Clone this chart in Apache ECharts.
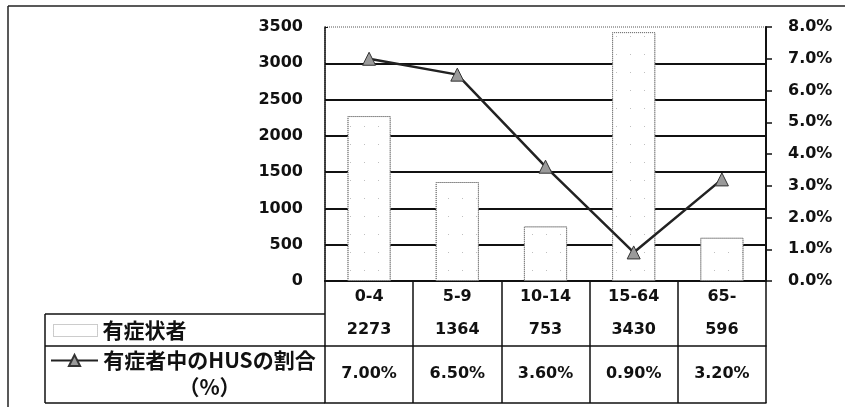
<!DOCTYPE html>
<html>
<head>
<meta charset="utf-8">
<script src="https://cdn.jsdelivr.net/npm/echarts@6/dist/echarts.min.js"></script>
<style>
html,body{margin:0;padding:0;background:#fff;}
#main{width:845px;height:407px;}
</style>
</head>
<body>
<div id="main"></div>
<script>
var categories = ['0-4', '5-9', '10-14', '15-64', '65-'];
var patients = [2273, 1364, 753, 3430, 596];
var husRate = [7.0, 6.5, 3.6, 0.9, 3.2];
var barName = '有症状者';
var lineName = '有症者中のHUSの割合（%）';

var numFont = 'DejaVu Sans';
var cjkFont = '"Noto Sans CJK JP", sans-serif';
var ink = '#111';

var chart = echarts.init(document.getElementById('main'));

function tableAxis(offset, formatter, margin, showLabel) {
  return {
    type: 'category',
    data: categories,
    position: 'bottom',
    offset: offset,
    axisLine: { show: true, lineStyle: { color: ink, width: 1.5 } },
    axisTick: { show: false },
    axisLabel: {
      show: showLabel,
      interval: 0,
      margin: margin,
      formatter: formatter,
      fontFamily: numFont, fontWeight: 'bold', fontSize: 16, color: ink
    },
    splitLine: { show: false }
  };
}

var option = {
  animation: false,
  backgroundColor: '#fff',
  grid: {
    left: 325, right: 79, top: 27, bottom: 126,
    show: true, borderColor: '#555', borderWidth: 1, borderType: 'dotted', backgroundColor: 'transparent'
  },
  legend: [
    {
      data: [{ name: barName, icon: 'rect' }],
      left: 53, top: 320, padding: 0,
      itemWidth: 44, itemHeight: 12,
      itemStyle: { color: '#fff', borderColor: '#999', borderWidth: 1, borderType: 'dotted', decal: 'none' },
      textStyle: { fontFamily: cjkFont, fontWeight: 'bold', fontSize: 21, color: ink, lineHeight: 20 }
    },
    {
      data: [lineName],
      left: 50, top: 323, padding: 0,
      itemWidth: 47, itemHeight: 14,
      formatter: function () {
        return '{b|}\n{a|有症者中のHUSの割合}\n{a|（%）}';
      },
      textStyle: {
        fontFamily: cjkFont, fontWeight: 'bold', fontSize: 21, color: ink,
        rich: {
          a: { fontFamily: cjkFont, fontWeight: 'bold', fontSize: 21, color: ink, width: 213, align: 'center', lineHeight: 27 },
          b: { fontSize: 21, lineHeight: 27 }
        }
      }
    }
  ],
  xAxis: [
    {
      type: 'category',
      data: categories,
      position: 'bottom',
      axisLine: { show: true, lineStyle: { color: ink, width: 2 } },
      axisTick: { show: true, interval: 0, length: 122, lineStyle: { color: ink, width: 1.5 } },
      axisLabel: { interval: 0, margin: 8, fontFamily: numFont, fontWeight: 'bold', fontSize: 16, color: ink },
      splitLine: { show: false }
    },
    tableAxis(33, function (v, i) { return String(patients[i]); }, 8, true),
    tableAxis(65, function (v, i) { return husRate[i].toFixed(2) + '%'; }, 20, true),
    tableAxis(122, function () { return ''; }, 8, false)
  ],
  yAxis: [
    {
      type: 'value',
      min: 0, max: 3500, interval: 500,
      axisLine: { show: true, lineStyle: { color: ink, width: 1.5 } },
      axisTick: { show: true, inside: true, length: 3, lineStyle: { color: ink } },
      axisLabel: {
        margin: 22, fontFamily: numFont, fontWeight: 'bold', fontSize: 16, color: ink,
        formatter: function (v) { return String(v); }
      },
      splitLine: { show: true, showMaxLine: false, lineStyle: { color: ink, width: 2 } }
    },
    {
      type: 'value',
      position: 'right',
      min: 0, max: 8, interval: 1,
      axisLine: { show: true, lineStyle: { color: ink, width: 2 } },
      axisTick: { show: true, length: 6, lineStyle: { color: ink, width: 1.5 } },
      axisLabel: {
        margin: 22, fontFamily: numFont, fontWeight: 'bold', fontSize: 16, color: ink,
        formatter: function (v) { return v.toFixed(1) + '%'; }
      },
      splitLine: { show: false }
    }
  ],
  series: [
    {
      name: barName,
      type: 'bar',
      xAxisIndex: 0, yAxisIndex: 0,
      data: patients,
      barWidth: '49%',
      itemStyle: {
        color: '#fff',
        borderColor: '#777',
        borderWidth: 1,
        borderType: 'dotted',
        decal: { symbol: 'rect', symbolSize: 1, color: 'rgba(0,0,0,0.25)', dashArrayX: [1, 13], dashArrayY: [1, 17], rotation: 0 }
      }
    },
    {
      name: lineName,
      type: 'line',
      xAxisIndex: 0, yAxisIndex: 1,
      data: husRate,
      symbol: 'triangle',
      symbolSize: 13,
      lineStyle: { color: '#222', width: 2.5 },
      itemStyle: { color: '#9a9a9a', borderColor: '#333', borderWidth: 1 },
      z: 5
    }
  ],
  graphic: [
    { type: 'line', shape: { x1: 8, y1: 6, x2: 845, y2: 6 }, style: { stroke: '#222', lineWidth: 1.5 } },
    { type: 'line', shape: { x1: 8, y1: 6, x2: 8, y2: 407 }, style: { stroke: '#222', lineWidth: 1.5 } },
    { type: 'line', shape: { x1: 45, y1: 314, x2: 325, y2: 314 }, style: { stroke: ink, lineWidth: 1.5 } },
    { type: 'line', shape: { x1: 45, y1: 346, x2: 325, y2: 346 }, style: { stroke: ink, lineWidth: 1.5 } },
    { type: 'line', shape: { x1: 45, y1: 403, x2: 325, y2: 403 }, style: { stroke: ink, lineWidth: 1.5 } },
    { type: 'line', shape: { x1: 45, y1: 314, x2: 45, y2: 403 }, style: { stroke: ink, lineWidth: 1.5 } }
  ]
};
chart.setOption(option);
</script>
</body>
</html>
